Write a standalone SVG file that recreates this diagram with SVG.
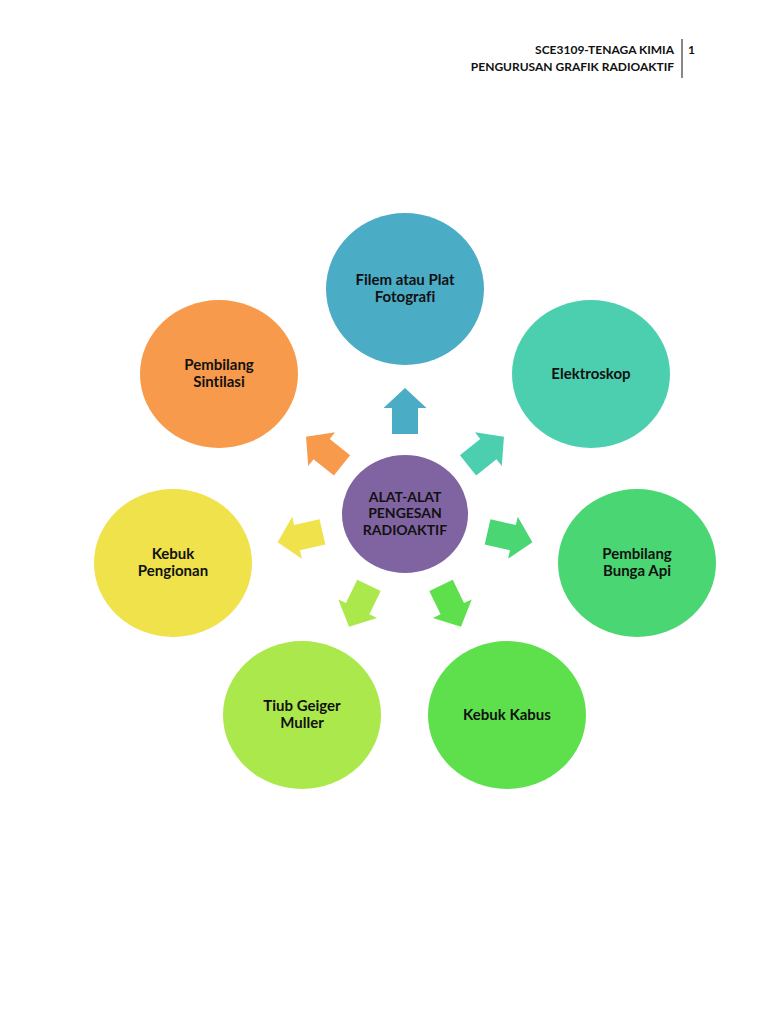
<svg xmlns="http://www.w3.org/2000/svg" width="768" height="1024" viewBox="0 0 768 1024">
<style>
text{font-variant-ligatures:none;font-feature-settings:"liga" 0,"clig" 0}
.t{font-family:Lato,"Liberation Sans",sans-serif;font-weight:bold;font-size:15px;fill:#111;text-anchor:middle}
.c{font-family:Lato,"Liberation Sans",sans-serif;font-weight:bold;font-size:14px;fill:#111;text-anchor:middle}
.h{font-family:Lato,"Liberation Sans",sans-serif;font-weight:bold;font-size:12px;fill:#111}
</style>
<defs>
<path id="arr" d="M0,-23 L21.5,-3 L13,-3 L13,23 L-13,23 L-13,-3 L-21.5,-3 Z"/>
</defs>
<rect width="768" height="1024" fill="#fff"/>
<g id="header">
<text class="h" x="674" y="54" text-anchor="end">SCE3109-TENAGA KIMIA</text>
<text class="h" x="674" y="71" text-anchor="end">PENGURUSAN GRAFIK RADIOAKTIF</text>
<line x1="682" y1="39" x2="682" y2="78" stroke="#111" stroke-width="1"/>
<text class="h" x="688" y="54">1</text>
</g>
<g id="connectors">
<use href="#arr" fill="#4BACC6" transform="translate(405,411) rotate(0)"/>
<use href="#arr" fill="#4BCFAF" transform="translate(486,451) rotate(51.4)"/>
<use href="#arr" fill="#4AD673" transform="translate(510,537) rotate(102.9)"/>
<use href="#arr" fill="#5EE04C" transform="translate(451,606) rotate(154.3)"/>
<use href="#arr" fill="#ABE84C" transform="translate(359,606) rotate(205.7)"/>
<use href="#arr" fill="#EFE24B" transform="translate(300,537) rotate(257.1)"/>
<use href="#arr" fill="#F79A4B" transform="translate(324,451) rotate(308.6)"/>
</g>
<g id="center">
<ellipse cx="405" cy="514" rx="63" ry="59" fill="#8064A2"/>
<text class="c" x="405" y="502">ALAT-ALAT</text>
<text class="c" x="405" y="518">PENGESAN</text>
<text class="c" x="405" y="535">RADIOAKTIF</text>
</g>
<g id="filem">
<ellipse cx="405" cy="289" rx="79" ry="76" fill="#4BACC6"/>
<text class="t" x="405" y="285">Filem atau Plat</text>
<text class="t" x="405" y="302">Fotografi</text>
</g>
<g id="elektroskop">
<ellipse cx="591" cy="374" rx="79" ry="74" fill="#4BCFAF"/>
<text class="t" x="591" y="379">Elektroskop</text>
</g>
<g id="bunga-api">
<ellipse cx="637" cy="563" rx="79" ry="74" fill="#4AD673"/>
<text class="t" x="637" y="559">Pembilang</text>
<text class="t" x="637" y="576">Bunga Api</text>
</g>
<g id="kebuk-kabus">
<ellipse cx="507" cy="715" rx="79" ry="74" fill="#5EE04C"/>
<text class="t" x="507" y="720">Kebuk Kabus</text>
</g>
<g id="geiger">
<ellipse cx="302" cy="715" rx="79" ry="74" fill="#ABE84C"/>
<text class="t" x="302" y="711">Tiub Geiger</text>
<text class="t" x="302" y="728">Muller</text>
</g>
<g id="pengionan">
<ellipse cx="173" cy="563" rx="79" ry="74" fill="#EFE24B"/>
<text class="t" x="173" y="559">Kebuk</text>
<text class="t" x="173" y="576">Pengionan</text>
</g>
<g id="sintilasi">
<ellipse cx="219" cy="374" rx="79" ry="74" fill="#F79A4B"/>
<text class="t" x="219" y="370">Pembilang</text>
<text class="t" x="219" y="387">Sintilasi</text>
</g>
</svg>
